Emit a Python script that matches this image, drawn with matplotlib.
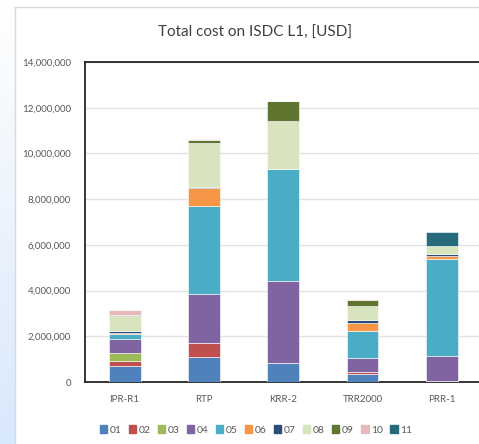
import numpy as np
import matplotlib
matplotlib.use("Agg")
import matplotlib.pyplot as plt
from matplotlib.ticker import FuncFormatter
from matplotlib.patches import Rectangle
from matplotlib.lines import Line2D

plt.rcParams['font.family'] = ['Lato', 'DejaVu Sans']

reactors = ["IPR-R1", "RTP", "KRR-2", "TRR2000", "PRR-1"]
series = ["01", "02", "03", "04", "05", "06", "07", "08", "09", "10", "11"]
colors = ["#4F81BD", "#C0504D", "#9BBB59", "#8064A2", "#4BACC6", "#F79646",
          "#2C4D75", "#D7E4BD", "#5F7530", "#E6B9B8", "#276A7C"]

# cost per item, one list per reactor (USD)
ipr_r1 = [720000, 180000, 380000, 580000, 220000, 70000, 60000, 670000, 60000, 190000, 0]
rtp = [1080000, 630000, 0, 2120000, 3890000, 760000, 70000, 1900000, 150000, 30000, 0]
krr_2 = [820000, 0, 0, 3590000, 4890000, 0, 0, 2140000, 870000, 0, 0]
trr2000 = [370000, 60000, 0, 610000, 1210000, 310000, 160000, 600000, 250000, 40000, 0]
prr_1 = [0, 50000, 0, 1080000, 4230000, 140000, 120000, 310000, 0, 0, 650000]

data = np.array([ipr_r1, rtp, krr_2, trr2000, prr_1], dtype=float)

W, H = 479, 444
fig = plt.figure(figsize=(W / 100, H / 100), dpi=100)

# bluish background strip on the left
bg = fig.add_axes([0, 0, 15 / W, 1])
grad = np.linspace(1, 0, 200).reshape(-1, 1)
bg.imshow(grad, aspect="auto", cmap=matplotlib.colors.LinearSegmentedColormap.from_list(
    "b", ["#ffffff", "#d8e8fb"]), extent=[0, 1, 0, 1], origin="lower")
bg.axis("off")

# outer chart frame
fig.add_artist(Line2D([15 / W, 15 / W], [0, 1 - 7 / H], color="#d9d9d9", lw=1))
fig.add_artist(Line2D([15 / W, 1], [1 - 7 / H, 1 - 7 / H], color="#d9d9d9", lw=1))

ax = fig.add_axes([85 / W, 1 - 382 / H, 396.5 / W, 320 / H])
x = np.arange(len(reactors))
bottom = np.zeros(len(reactors))
for i, name in enumerate(series):
    ax.bar(x, data[:, i], 0.4, bottom=bottom, color=colors[i], label=name,
           edgecolor="white", linewidth=0.4, zorder=3)
    bottom += data[:, i]

ax.set_xlim(-0.5, 4.5)
ax.set_ylim(0, 14000000)
ax.set_yticks(np.arange(0, 14000001, 2000000))
ax.yaxis.set_major_formatter(FuncFormatter(lambda v, p: f"{int(v):,}"))
ax.set_xticks(x)
ax.set_xticklabels(reactors)
ax.tick_params(length=0, labelsize=7, colors="#595959")
ax.tick_params(axis="y", pad=10)
ax.tick_params(axis="x", pad=9)
ax.grid(axis="y", color="#e3e3e3", lw=1, zorder=0)
for s in ["left", "top", "bottom"]:
    ax.spines[s].set_color("#262626")
    ax.spines[s].set_linewidth(1.3)
ax.spines["right"].set_visible(False)

fig.text(255 / W, 1 - 33 / H, "Total cost on ISDC L1, [USD]", ha="center", va="center",
         fontsize=11, color="#404040")

handles = [Rectangle((0, 0), 1, 1, color=c) for c in colors]
fig.legend(handles, series, loc="center", bbox_to_anchor=(256 / W, 1 - 430 / H),
           ncol=11, frameon=False, fontsize=7.5, handlelength=0.7, handleheight=0.7,
           handletextpad=0.25, columnspacing=0.7, labelcolor="#595959")

fig.savefig("out.png", dpi=100)
